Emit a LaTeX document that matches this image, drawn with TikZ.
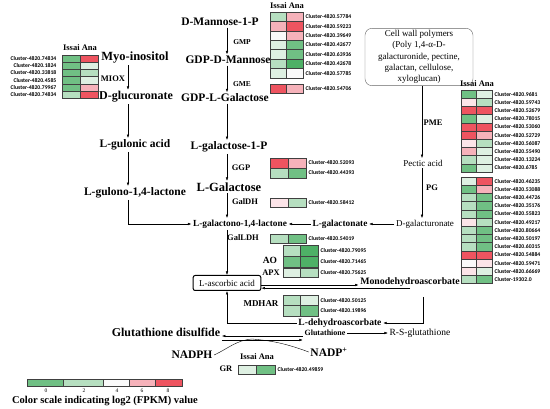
\documentclass[tikz,border=0pt]{standalone}
\usepackage{fontspec}
\setmainfont{Liberation Serif}
\newfontfamily\clusterfont{Carlito}
\usetikzlibrary{arrows.meta}
\definecolor{hgD}{RGB}{78,176,102}
\definecolor{hgM}{RGB}{112,192,132}
\definecolor{hgL}{RGB}{182,223,192}
\definecolor{hgV}{RGB}{222,240,226}
\definecolor{hw}{RGB}{250,250,250}
\definecolor{hpV}{RGB}{252,228,232}
\definecolor{hpL}{RGB}{246,178,186}
\definecolor{hr}{RGB}{238,84,96}
\tikzset{
	% Text styles for metabolites, enzymes and heat map labels
	big met/.style={font=\bfseries\fontsize{11.5}{12}\selectfont,inner sep=1.5},
	mid met/.style={font=\bfseries\fontsize{9.3}{10}\selectfont,inner sep=1.5},
	plain met/.style={font=\fontsize{9}{10}\selectfont,inner sep=1.5},
	enzyme/.style={font=\bfseries\fontsize{8.5}{9}\selectfont,inner sep=1},
	head/.style={font=\bfseries\fontsize{8.5}{9}\selectfont,inner sep=0.5},
	cluster/.style={font=\clusterfont\bfseries\fontsize{5.7}{6}\selectfont,inner sep=0.5,anchor=west},
	tick/.style={font=\fontsize{5.5}{6}\selectfont,inner sep=0.5},
	% Heat map cells and arrows
	heat/.style={draw=black!75,line width=0.35pt},
	arr/.style={-{Latex[length=3.5pt,width=2.6pt]},line width=0.5pt},
	ascbox/.style={draw,line width=1pt,rounded corners=2pt,inner xsep=6,minimum height=15,font=\fontsize{9}{10}\selectfont},
	wall box/.style={draw=black!60,rounded corners=7pt,align=center,minimum width=108,minimum height=57,inner sep=2,font=\fontsize{9}{11.3}\selectfont}
}
\begin{document}
\begin{tikzpicture}[x=1pt,y=-1pt]
	\useasboundingbox (0,0) rectangle (550,409);
	% x positions of the vertical arrows
	\coordinate (lx) at (128,0);
	\coordinate (mx) at (227,0);
	\coordinate (rx) at (422,0);
	
	% Myo-inositol branch
	\node[big met,font=\bfseries\fontsize{12.5}{13}\selectfont] (myo) at (135,58) {Myo-inositol};
	\node[big met,font=\bfseries\fontsize{12}{13}\selectfont] (dglc) at (136,97) {D-glucuronate};
	\node[big met] (gulA) at (135,145) {L-gulonic acid};
	\node[big met] (gulL) at (135,193) {L-gulono-1,4-lactone};
	\node[enzyme] (miox) at (113,79) {MIOX};
	\draw[arr] (myo.south -| lx) -- (dglc.north -| lx);
	\draw[arr] (dglc.south -| lx) -- (gulA.north -| lx);
	\draw[arr] (gulA.south -| lx) -- (gulL.north -| lx);
	
	% D-mannose branch
	\node[big met] (dman) at (220,22) {D-Mannose-1-P};
	\node[big met] (gdpM) at (228,60) {GDP-D-Mannose};
	\node[big met] (gdpG) at (225,98) {GDP-L-Galactose};
	\node[big met] (galP) at (229,147) {L-galactose-1-P};
	\node[big met,font=\bfseries\fontsize{12.5}{13}\selectfont] (lgal) at (229,187) {L-Galactose};
	\node[mid met] (galL) at (240,224) {L-galactono-1,4-lactone};
	\node[mid met] (galA) at (340,224) {L-galactonate};
	\node[ascbox] (asc) at (227,283) {L-ascorbic acid};
	\node[enzyme,font=\bfseries\fontsize{7.5}{8}\selectfont] (gmp) at (242,42) {GMP};
	\node[enzyme,font=\bfseries\fontsize{7.5}{8}\selectfont] (gme) at (242,84) {GME};
	\node[enzyme] (ggp) at (241,168) {GGP};
	\node[enzyme] (galdh) at (245,202) {GalDH};
	\node[enzyme] (galldh) at (243,238) {GalLDH};
	\draw[arr] (dman.south -| mx) -- (gdpM.north -| mx);
	\draw[arr] (gdpM.south -| mx) -- (gdpG.north -| mx);
	\draw[arr] (gdpG.south -| mx) -- (galP.north -| mx);
	\draw[arr] (galP.south -| mx) -- (lgal.north -| mx);
	\draw[arr] (lgal.south -| mx) -- (galL.north -| mx);
	\draw[arr] (galL.south -| mx) -- (asc.north -| mx);
	\draw[arr] (gulL.south -| lx) |- (galL.west);
	
	% cell wall branch
	\node[wall box] (cw) at (419,57) {Cell wall polymers\\(Poly 1,4-α-D-\\galacturonide, pectine,\\galactan, cellulose,\\xyloglucan)};
	\node[plain met] (pect) at (423,163) {Pectic acid};
	\node[plain met] (dgal) at (425,224) {D-galacturonate};
	\node[enzyme] (pme) at (433,123) {PME};
	\node[enzyme] (pg) at (432,188) {PG};
	\draw[arr] (cw.south -| rx) -- (pect.north -| rx);
	\draw[arr] (pect.south -| rx) -- (dgal.north -| rx);
	\draw[arr] (dgal.west) -- (galA.east);
	\draw[arr] (galA.west) -- (galL.east);
	
	% ascorbate recycling
	\node[mid met,font=\bfseries\fontsize{9.8}{10}\selectfont] (mdha) at (410,282) {Monodehydroascorbate};
	\node[mid met,font=\bfseries\fontsize{9.6}{10}\selectfont] (dha) at (340,323) {L-dehydroascorbate};
	\node[enzyme,font=\bfseries\fontsize{9.5}{10}\selectfont] (ao) at (270,260) {AO};
	\node[enzyme] (apx) at (271,273) {APX};
	\node[enzyme,font=\bfseries\fontsize{9}{10}\selectfont] (mdhar) at (261,304) {MDHAR};
	\coordinate (mdd) at (423,297);
	\draw[arr] ([yshift=-2]asc.east) -- ([yshift=-2]asc.east -| mdha.west);
	\draw[arr] (mdha.south) -- (mdha.south -| asc.east);
	\draw[arr] (mdd) |- (dha.east);
	\draw[arr] (dha.west) -| (asc.south);
	
	% glutathione
	\node[big met,font=\bfseries\fontsize{12}{13}\selectfont] (gssg) at (166,332) {Glutathione disulfide};
	\node[mid met,font=\bfseries\fontsize{8}{9}\selectfont] (gsh) at (325,333) {Glutathione};
	\node[plain met,font=\fontsize{9.5}{10}\selectfont] (rsg) at (420,333) {R-S-glutathione};
	\node[big met] (nadph) at (192,355) {NADPH};
	\node[big met] (nadp) at (329,352) {NADP\textsuperscript{+}};
	\node[enzyme] (gr) at (226,369) {GR};
	\coordinate (up) at (0,336);
	\coordinate (lo) at (0,340);
	\coordinate (gmid) at (252,339);
	\draw[arr] (gsh.east) -- (rsg.west);
	\draw[arr] (gsh.west |- up) -- (gssg.east |- up);
	\draw[arr] (gssg.east |- lo) -- (gsh.west |- lo);
	\draw[line width=0.4pt] (nadph.east) to[out=25,in=185] (gmid) to[out=-5,in=160] (nadp.west);
	
	% heat maps
	\node[head] (hl) at (80,48) {Issai Ana};
	\foreach \a/\b/\c [count=\i] in {hgM/hr/74834,hgM/hgV/1824,hgM/hgL/33818,hgM/hgV/4585,hgM/hpL/79967,hgL/hr/74834}{
		\draw[heat,fill=\a] (62,{55+(\i-1)*7.2}) rectangle ++(18,7.2);
		\draw[heat,fill=\b] (80,{55+(\i-1)*7.2}) rectangle ++(18,7.2);
		\node[cluster,anchor=east] (lh-\i) at (57,{58.6+(\i-1)*7.2}) {Cluster-4820.\c};
	}
	\node[head] (hm) at (287,6) {Issai Ana};
	\foreach \a/\b/\c [count=\i] in {hgL/hpL/57784,hpL/hr/59223,hw/hpL/39649,hgV/hgM/42677,hgV/hgM/63936,hgL/hgD/42678,hgV/hw/57785}{
		\draw[heat,fill=\a] (270,{12+(\i-1)*9.4}) rectangle ++(16.5,9.4);
		\draw[heat,fill=\b] (286.5,{12+(\i-1)*9.4}) rectangle ++(16.5,9.4);
		\node[cluster] (gm-\i) at (305,{16.7+(\i-1)*9.4}) {Cluster-4820.\c};
	}
	\draw[heat,fill=hr] (270,84) rectangle ++(16.5,9);
	\draw[heat,fill=hpL] (286.5,84) rectangle ++(16.5,9);
	\node[cluster] (gme-1) at (305,88.5) {Cluster-4820.54706};
	\foreach \a/\b/\c [count=\i] in {hr/hpL/52093,hgL/hgM/44393}{
		\draw[heat,fill=\a] (270,{158+(\i-1)*10}) rectangle ++(18,10);
		\draw[heat,fill=\b] (288,{158+(\i-1)*10}) rectangle ++(18,10);
		\node[cluster] (ggp-\i) at (308,{163+(\i-1)*10}) {Cluster-4820.\c};
	}
	\draw[heat,fill=hpV] (270,198) rectangle ++(18,9);
	\draw[heat,fill=hgL] (288,198) rectangle ++(18,9);
	\node[cluster] (galdh-1) at (308,202.5) {Cluster-4820.58412};
	\draw[heat,fill=hgL] (270,234) rectangle ++(18,9);
	\draw[heat,fill=hgM] (288,234) rectangle ++(18,9);
	\node[cluster] (galldh-1) at (308,238.5) {Cluster-4820.54019};
	\foreach \a/\b/\c [count=\i] in {hgL/hgD/79095,hgM/hgD/71465}{
		\draw[heat,fill=\a] (283,{245+(\i-1)*11}) rectangle ++(17.5,11);
		\draw[heat,fill=\b] (300.5,{245+(\i-1)*11}) rectangle ++(17.5,11);
		\node[cluster] (ao-\i) at (320,{250.5+(\i-1)*11}) {Cluster-4820.\c};
	}
	\draw[heat,fill=hgV] (283,268) rectangle ++(17.5,9);
	\draw[heat,fill=hgL] (300.5,268) rectangle ++(17.5,9);
	\node[cluster] (apx-1) at (320,272.5) {Cluster-4820.75625};
	\foreach \a/\b/\c [count=\i] in {hgL/hgV/50125,hgL/hgM/19896}{
		\draw[heat,fill=\a] (283,{295+(\i-1)*10.5}) rectangle ++(17.5,10.5);
		\draw[heat,fill=\b] (300.5,{295+(\i-1)*10.5}) rectangle ++(17.5,10.5);
		\node[cluster] (mdhar-\i) at (320,{300.2+(\i-1)*10.5}) {Cluster-4820.\c};
	}
	\node[head] (hg) at (257,357) {Issai Ana};
	\draw[heat,fill=hgV] (238,365) rectangle ++(18.5,9);
	\draw[heat,fill=hgM] (256.5,365) rectangle ++(18.5,9);
	\node[cluster] (gr-1) at (277,369.5) {Cluster-4820.49859};
	\node[head] (hrt) at (477,84) {Issai Ana};
	\foreach \a/\b/\c [count=\i] in {hgM/hgV/4820.9681,hpV/hgL/4820.59743,hr/hr/4820.52679,hgM/hgV/4820.78015,hr/hr/4820.53060,hr/hpL/4820.52729,hpV/hgL/4820.56087,hpL/hgV/4820.55490,hgL/hgV/4820.13224,hgM/hgV/4820.6785}{
		\draw[heat,fill=\a] (461,{90+(\i-1)*8.2}) rectangle ++(15.5,8.2);
		\draw[heat,fill=\b] (476.5,{90+(\i-1)*8.2}) rectangle ++(15.5,8.2);
		\node[cluster] (pme-\i) at (494,{94.1+(\i-1)*8.2}) {Cluster-\c};
	}
	\foreach \a/\b/\c [count=\i] in {hgV/hr/4820.46235,hgM/hpL/4820.53088,hgL/hgM/4820.44726,hgL/hgM/4820.35176,hgL/hgM/4820.55823,hpV/hgL/4820.49217,hgL/hgM/4820.80664,hgL/hgM/4820.50197,hgL/hgM/4820.60315,hr/hr/4820.54884,hw/hpV/4820.59471,hpV/hgV/4820.66669,hgL/hgM/19302.0}{
		\draw[heat,fill=\a] (461,{177+(\i-1)*8.2}) rectangle ++(15.5,8.2);
		\draw[heat,fill=\b] (476.5,{177+(\i-1)*8.2}) rectangle ++(15.5,8.2);
		\node[cluster] (pg-\i) at (494,{181.1+(\i-1)*8.2}) {Cluster-\c};
	}
	
	% colour scale
	\foreach \c/\xa/\xb in {hgM/27/63,hgL/63/103,hw/103/129,hpL/129/155,hr/155/182}
		\draw[heat,fill=\c] (\xa,379) rectangle (\xb,386);
	\foreach \v/\xv in {0/46,2/84,4/117,6/142,8/168}
		\node[tick] (t-\v) at (\xv,391) {\v};
	\node[mid met,font=\bfseries\fontsize{10.5}{11}\selectfont] (cap) at (105,401) {Color scale indicating log2 (FPKM) value};
\end{tikzpicture}
\end{document}
